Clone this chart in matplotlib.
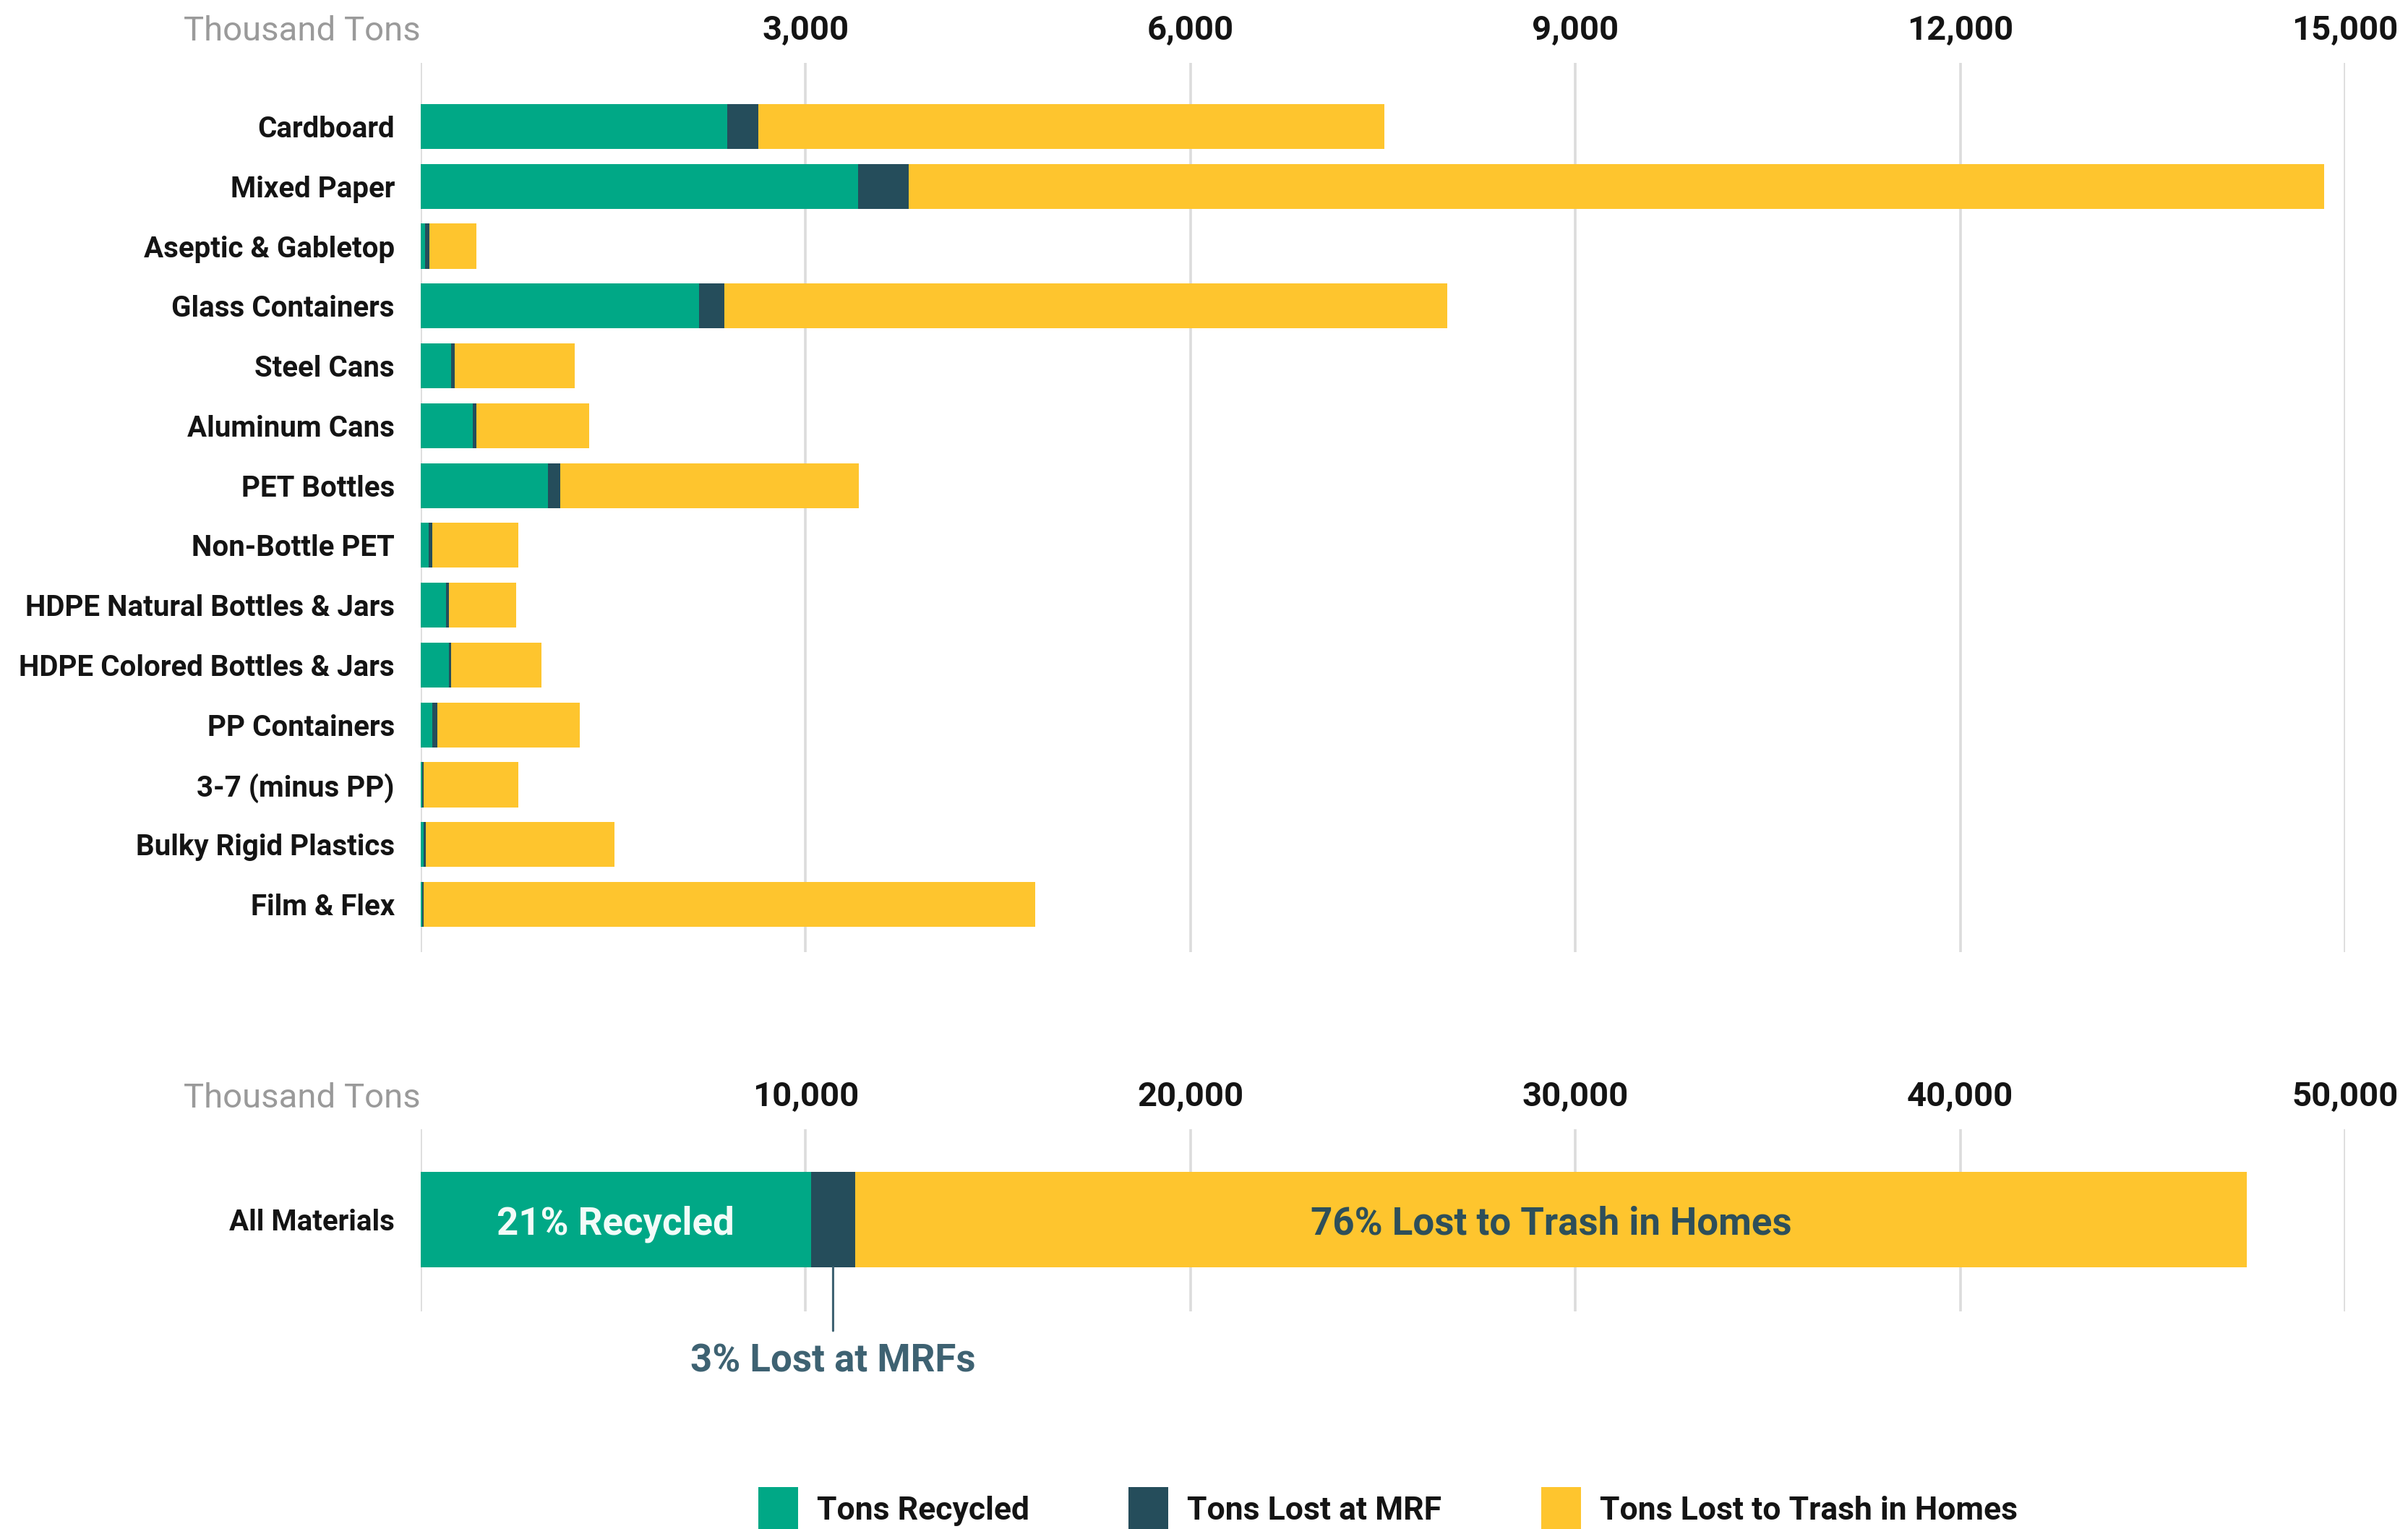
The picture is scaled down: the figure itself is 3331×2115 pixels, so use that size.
import matplotlib
matplotlib.use("Agg")
import matplotlib.pyplot as plt
from matplotlib.patches import Patch
from matplotlib.transforms import blended_transform_factory
import numpy as np

plt.rcParams['font.family'] = ['Roboto', 'DejaVu Sans']

# ---------------- data (thousand tons) ----------------
categories = ["Cardboard", "Mixed Paper", "Aseptic & Gabletop", "Glass Containers",
              "Steel Cans", "Aluminum Cans", "PET Bottles", "Non-Bottle PET",
              "HDPE Natural Bottles & Jars", "HDPE Colored Bottles & Jars",
              "PP Containers", "3-7 (minus PP)", "Bulky Rigid Plastics", "Film & Flex"]
recycled = [2389, 3408, 34, 2169, 238, 405, 989, 61, 199, 219, 92, 12, 25, 12]
lost_mrf = [242, 395, 31, 197, 29, 31, 96, 31, 20, 20, 40, 8, 15, 8]
lost_trash = [4879, 11031, 371, 5634, 936, 877, 2330, 668, 525, 703, 1106, 740, 1470, 4769]

top_ticks = [0, 3000, 6000, 9000, 12000, 15000]
top_tick_labels = ["", "3,000", "6,000", "9,000", "12,000", "15,000"]

all_label = "All Materials"
all_recycled = 10136
all_mrf = 1157
all_trash = 36153
bottom_ticks = [0, 10000, 20000, 30000, 40000, 50000]
bottom_tick_labels = ["", "10,000", "20,000", "30,000", "40,000", "50,000"]

series_names = ["Tons Recycled", "Tons Lost at MRF", "Tons Lost to Trash in Homes"]
pct_recycled = "21% Recycled"
pct_trash = "76% Lost to Trash in Homes"
pct_mrf = "3% Lost at MRFs"
unit_label = "Thousand Tons"

# ---------------- style ----------------
C_GREEN = "#00A886"
C_DARK = "#254D5B"
C_YELLOW = "#FEC52E"
C_GRID = "#DCDCDC"
C_GRAY = "#9A9A9A"
C_TEXT = "#141414"

W, H = 3331, 2115
fig = plt.figure(figsize=(W / 100, H / 100), dpi=100)

left = 582 / W
width = (3244 - 582) / W
ax1 = fig.add_axes([left, 1 - 1317 / H, width, (1317 - 87) / H])
ax2 = fig.add_axes([left, 1 - 1814 / H, width, (1814 - 1562) / H])


def style_axis(ax, ticks, labels):
    for s in ax.spines.values():
        s.set_visible(False)
    ax.xaxis.tick_top()
    ax.set_xticks(ticks)
    ax.set_xticklabels(labels, fontsize=34, fontweight='bold', color=C_TEXT)
    ax.tick_params(axis='x', length=0, pad=17)
    ax.tick_params(axis='y', length=0, pad=26, labelsize=29, labelcolor=C_TEXT)
    for lab in ax.get_yticklabels():
        lab.set_fontweight('bold')
    ax.grid(axis='x', color=C_GRID, linewidth=2.6, zorder=0)
    ax.grid(axis='y', visible=False)
    ax.set_axisbelow(True)


# ---------------- top chart ----------------
y = np.arange(len(categories))
rec = np.array(recycled)
mrf = np.array(lost_mrf)
tr = np.array(lost_trash)
bh = 0.75
ax1.barh(y, rec, height=bh, color=C_GREEN, zorder=2)
ax1.barh(y, mrf, left=rec, height=bh, color=C_DARK, zorder=2)
ax1.barh(y, tr, left=rec + mrf, height=bh, color=C_YELLOW, zorder=2)
ax1.set_yticks(y)
ax1.set_yticklabels(categories)
ax1.set_xlim(0, 15000)
ax1.set_ylim(13.797, -1.063)
style_axis(ax1, top_ticks, top_tick_labels)
tr1 = blended_transform_factory(ax1.transData, ax1.transAxes)
ax1.text(0, 1 + 44 / 1230, unit_label, transform=tr1, ha='right', va='center',
         fontsize=34, color=C_GRAY)

# ---------------- bottom chart ----------------
ax2.barh([0], [all_recycled], height=1.0, color=C_GREEN, zorder=2)
ax2.barh([0], [all_mrf], left=[all_recycled], height=1.0, color=C_DARK, zorder=2)
ax2.barh([0], [all_trash], left=[all_recycled + all_mrf], height=1.0,
         color=C_YELLOW, zorder=2)
ax2.set_yticks([0])
ax2.set_yticklabels([all_label])
ax2.set_xlim(0, 50000)
ax2.set_ylim(127 / 132, -125 / 132)
style_axis(ax2, bottom_ticks, bottom_tick_labels)
tr2 = blended_transform_factory(ax2.transData, ax2.transAxes)
ax2.text(0, 1 + 43 / 252, unit_label, transform=tr2, ha='right', va='center',
         fontsize=34, color=C_GRAY)

ax2.text(all_recycled / 2, 0.045, pct_recycled, ha='center', va='center',
         fontsize=38, fontweight='bold', color="#F2FBF8", zorder=3)
ax2.text(all_recycled + all_mrf + all_trash / 2, 0.045, pct_trash, ha='center',
         va='center', fontsize=38, fontweight='bold', color="#2E4F5A", zorder=3)
ax2.annotate(pct_mrf, xy=(all_recycled + all_mrf / 2, 0.5),
             xytext=(all_recycled + all_mrf / 2, 196 / 132), textcoords='data',
             ha='center', va='center', fontsize=38, fontweight='bold',
             color="#3E6272", annotation_clip=False,
             arrowprops=dict(arrowstyle='-', color="#3E6272", lw=2.2,
                             shrinkA=10, shrinkB=0))

# ---------------- legend ----------------
handles = [Patch(facecolor=C_GREEN), Patch(facecolor=C_DARK), Patch(facecolor=C_YELLOW)]
fs = 32
fpx = fs * 100 / 72
leg = fig.legend(handles, series_names, loc='center', ncol=3,
                 bbox_to_anchor=(1920 / W, 1 - 2088 / H), frameon=False,
                 fontsize=fs, handlelength=55 / fpx, handleheight=1.8,
                 handletextpad=26 / fpx, columnspacing=137 / fpx, borderpad=0,
                 borderaxespad=0)
for t in leg.get_texts():
    t.set_fontweight('bold')
    t.set_color(C_TEXT)

fig.savefig("out.png", dpi=100)
